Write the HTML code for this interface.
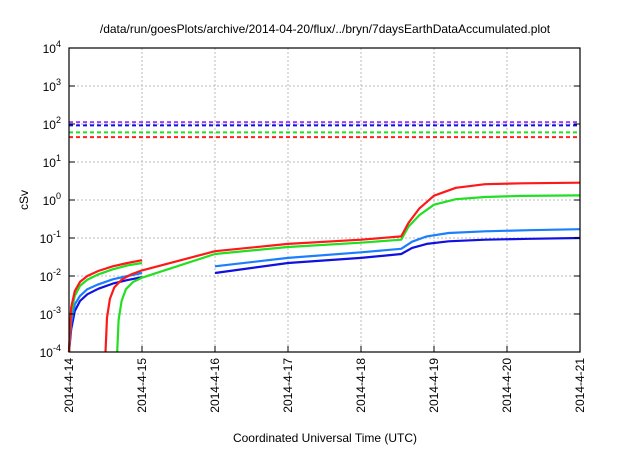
<!DOCTYPE html>
<html><head><meta charset="utf-8"><style>
body{margin:0;background:#fff;width:640px;height:448px;overflow:hidden}
svg{font-family:"Liberation Sans",sans-serif}
</style></head><body>
<svg id="chart" width="640" height="448" viewBox="0 0 640 448" xmlns="http://www.w3.org/2000/svg">
<text x="325" y="33" font-size="12" text-anchor="middle">/data/run/goesPlots/archive/2014-04-20/flux/../bryn/7daysEarthDataAccumulated.plot</text>
<text x="325" y="442" font-size="12" text-anchor="middle">Coordinated Universal Time (UTC)</text>
<text x="0" y="0" font-size="12" text-anchor="middle" transform="translate(28,200) rotate(-90)">cSv</text>
<g id="grid"></g><g id="series"></g><g id="axes"></g>
</svg>
<script>
const xTickLabels=["2014-4-14","2014-4-15","2014-4-16","2014-4-17","2014-4-18","2014-4-19","2014-4-20","2014-4-21"];
const yExps=[-4,-3,-2,-1,0,1,2,3,4];
const thresholdValues=[112,92,60,45];
const thresholdColors=["#a040ff","#1010e0","#20e020","#ff2020"];
// series: days since 2014-4-14
const redT1=[0,0.03,0.08,0.15,0.25,0.4,0.6,0.8,1.0];
const redV1=[0.0001,0.0015,0.004,0.007,0.01,0.0135,0.018,0.022,0.026];
const redT2=[0.5,0.52,0.56,0.62,0.72,0.85,1.0,2.0,3.0,4.0,4.55,4.65,4.8,5.0,5.3,5.7,6.2,7.0];
const redV2=[0.0001,0.0008,0.0025,0.005,0.008,0.011,0.014,0.045,0.07,0.09,0.11,0.25,0.6,1.3,2.1,2.6,2.75,2.85];
const greenT1=[0,0.03,0.08,0.15,0.25,0.4,0.6,0.8,1.0];
const greenV1=[0.0001,0.0011,0.003,0.0055,0.008,0.011,0.015,0.019,0.022];
const greenT2=[0.66,0.68,0.72,0.78,0.88,1.0,2.0,3.0,4.0,4.55,4.65,4.8,5.0,5.3,5.7,6.2,7.0];
const greenV2=[0.0001,0.0007,0.0022,0.0045,0.007,0.009,0.038,0.058,0.075,0.09,0.2,0.4,0.75,1.05,1.2,1.28,1.32];
const lblueT1=[0,0.03,0.08,0.15,0.25,0.4,0.6,0.8,1.0];
const lblueV1=[0.0001,0.0006,0.0018,0.003,0.0045,0.006,0.0082,0.01,0.012];
const lblueT2=[2.0,3.0,4.0,4.55,4.7,4.9,5.2,5.7,6.3,7.0];
const lblueV2=[0.018,0.03,0.042,0.052,0.08,0.11,0.135,0.15,0.16,0.17];
const blueT1=[0,0.03,0.08,0.15,0.25,0.4,0.6,0.8,1.0];
const blueV1=[0.0001,0.0004,0.0012,0.0022,0.0033,0.0046,0.0063,0.0078,0.0093];
const blueT2=[2.0,3.0,4.0,4.55,4.7,4.9,5.2,5.7,6.3,7.0];
const blueV2=[0.012,0.022,0.03,0.038,0.055,0.07,0.082,0.09,0.095,0.1];

const X0=69,X1=580,Y0=48,Y1=352;
const xs=d=>X0+d/7*(X1-X0);
const ys=v=>Y0+(4-Math.log10(v))/8*(Y1-Y0);
const NS="http://www.w3.org/2000/svg";
function mk(tag,parent,attrs){const e=document.createElementNS(NS,tag);for(const k in attrs)e.setAttribute(k,attrs[k]);parent.appendChild(e);return e;}
const grid=document.getElementById('grid'),ser=document.getElementById('series'),ax=document.getElementById('axes');
xTickLabels.forEach((lab,i)=>{
  const x=xs(i);
  if(i>0&&i<7){const g=mk('line',grid,{x1:x,x2:x,y1:Y0,y2:Y1,stroke:'#bbb','stroke-dasharray':'2,2','stroke-width':1});
  
  }
  const t=mk('line',ax,{x1:x,x2:x,y1:Y1,y2:Y1-6,stroke:'#000'});
  
  
  const tx=mk('text',ax,{x:0,y:0,'font-size':12,'text-anchor':'end',transform:`translate(${x+4},${Y1+6}) rotate(-90)`});
  tx.textContent=lab;
  
  
});
yExps.forEach(e=>{
  const y=ys(Math.pow(10,e));
  if(e>-4&&e<4){const g=mk('line',grid,{x1:X0,x2:X1,y1:y,y2:y,stroke:'#bbb','stroke-dasharray':'2,2','stroke-width':1});
  
  }
  mk('line',ax,{x1:X0,x2:X0+6,y1:y,y2:y,stroke:'#000'});
  mk('line',ax,{x1:X1,x2:X1-6,y1:y,y2:y,stroke:'#000'});
  const tx=mk('text',ax,{x:X0-8,y:y+5,'font-size':12,'text-anchor':'end'});
  tx.innerHTML='10<tspan dy="-6" font-size="9">'+e+'</tspan>';
  
  
});
const fr=mk('rect',ax,{x:X0,y:Y0,width:X1-X0,height:Y1-Y0,fill:'none',stroke:'#000','stroke-width':1.2});


thresholdValues.forEach((v,i)=>{
  const l=mk('line',ser,{x1:X0,x2:X1,y1:ys(v),y2:ys(v),stroke:thresholdColors[i],'stroke-width':2,'stroke-dasharray':'4,3'});
  
  
});
function line(T,V,col,name){
  const p=T.map((t,i)=>xs(t).toFixed(1)+','+ys(V[i]).toFixed(1)).join(' ');
  const pl=mk('polyline',ser,{points:p,fill:'none',stroke:col,'stroke-width':2.2,'stroke-linejoin':'round'});
  
  
}
line(blueT1,blueV1,'#1010e0','blue-series');line(blueT2,blueV2,'#1010e0','blue-series');
line(lblueT1,lblueV1,'#1a7fff','light-blue-series');line(lblueT2,lblueV2,'#1a7fff','light-blue-series');
line(greenT1,greenV1,'#20e020','green-series');line(greenT2,greenV2,'#20e020','green-series');
line(redT1,redV1,'#ff1818','red-series');line(redT2,redV2,'#ff1818','red-series');
</script>
</body></html>
